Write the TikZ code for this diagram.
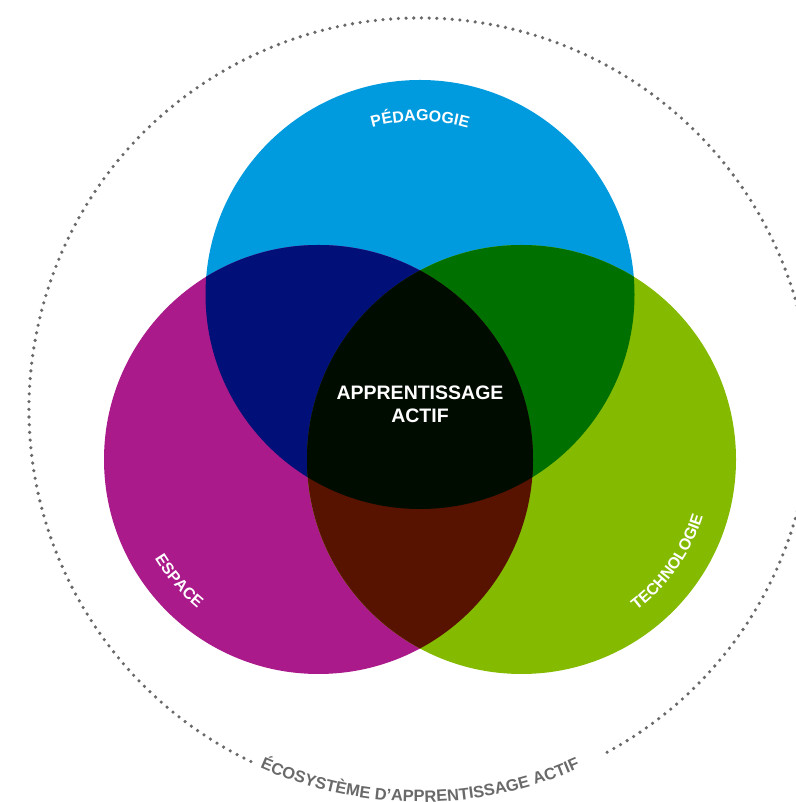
\documentclass[tikz,border=0pt]{standalone}
\usepackage{fontspec}
\setsansfont{Liberation Sans}
\usepackage{xcolor}
\usetikzlibrary{calc}
\usetikzlibrary{positioning}
\usetikzlibrary{decorations.text}

\definecolor{pedblue}{RGB}{0,154,222}
\definecolor{esppurple}{RGB}{170,26,138}
\definecolor{techgreen}{RGB}{132,187,0}
\definecolor{pedesp}{RGB}{0,16,120}
\definecolor{pedtech}{RGB}{0,113,0}
\definecolor{esptech}{RGB}{88,19,0}
\definecolor{coreblack}{RGB}{0,12,0}
\definecolor{ringgray}{RGB}{105,105,105}

\newcommand{\labfont}{\color{white}\sffamily\bfseries\fontsize{16}{19}\selectfont}
\newcommand{\ecofont}{\color{ringgray}\sffamily\bfseries\fontsize{16.5}{19}\selectfont}

\begin{document}
\begin{tikzpicture}[x=1pt, y=1pt, font=\sffamily\bfseries]
		\tikzstyle{ring}=[draw=ringgray, line width=3.6pt, line cap=round, dash pattern=on 0pt off 7.7pt]
		\tikzstyle{arclabel}=[decorate, decoration={text along path, text align=center}]
		\def\rad{214.5pt}
		\useasboundingbox (0,0) rectangle (795,802);
		
		\coordinate (ped) at (420,507.5);
		\coordinate (esp) at (318.5,342.5);
		\coordinate (tech) at (521.5,342.5);
		\coordinate (eco) at (420,393);
		
		\fill[pedblue] (ped) circle[radius=\rad];
		\fill[esppurple] (esp) circle[radius=\rad];
		\fill[techgreen] (tech) circle[radius=\rad];
		
		% overlaps
		\begin{scope}
			\clip (ped) circle[radius=\rad];
			\fill[pedesp] (esp) circle[radius=\rad];
			\fill[pedtech] (tech) circle[radius=\rad];
		\end{scope}
		\begin{scope}
			\clip (esp) circle[radius=\rad];
			\fill[esptech] (tech) circle[radius=\rad];
			\clip (tech) circle[radius=\rad];
			\fill[coreblack] (ped) circle[radius=\rad];
		\end{scope}
		
		\node[align=center, text=white, font=\sffamily\bfseries\fontsize{19.5}{23}\selectfont] (core) at (420,397.5) {APPRENTISSAGE\\ACTIF};
		
		\path[arclabel, decoration={text={|\labfont|PÉDAGOGIE}}] ($(ped)+(130:173.5pt)$) arc[start angle=130, end angle=50, radius=173.5pt];
		\path[arclabel, decoration={text={|\labfont|ESPACE}}] ($(esp)+(196:191.5pt)$) arc[start angle=196, end angle=246, radius=191.5pt];
		\path[arclabel, decoration={text={|\labfont|TECHNOLOGIE}}] ($(tech)+(-60:190pt)$) arc[start angle=-60, end angle=-10, radius=190pt];
		
		\draw[ring] ($(eco)+(-61.4:391pt)$) arc[start angle=-61.4, end angle=245, radius=391pt];
		\path[arclabel, decoration={text={|\ecofont|ÉCOSYSTÈME D’APPRENTISSAGE ACTIF}}] ($(eco)+(240:393pt)$) arc[start angle=240, end angle=300, radius=393pt];
	\end{tikzpicture}
\end{document}
